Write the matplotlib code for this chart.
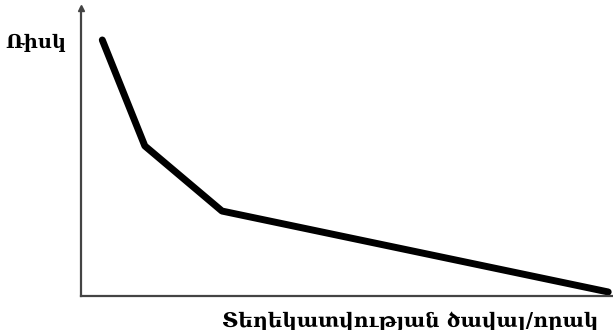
import matplotlib.pyplot as plt

# risk vs information volume/quality (arbitrary units, 0-100)
info = [4.0, 12.0, 26.5, 99.1]
risk = [88.9, 52.1, 29.5, 1.4]

x_label = 'Տեղեկատվության ծավալ/որակ'
y_label = 'Ռիսկ'

fig = plt.figure(figsize=(6.13, 3.30), dpi=100)
fig.patch.set_facecolor('w')
# axes box: left at x=81px, bottom at y=296px, top at arrow tip
ax = fig.add_axes([81/613, (330-296)/330, (613-81)/613, (296-8)/330])
ax.set_xlim(0, 100)
ax.set_ylim(0, 100)

ax.plot(info, risk, color='black', lw=5, solid_capstyle='round',
        solid_joinstyle='round')

for s in ['top', 'right']:
    ax.spines[s].set_visible(False)
for s in ['left', 'bottom']:
    ax.spines[s].set_color('#444444')
    ax.spines[s].set_linewidth(1.6)
ax.set_xticks([])
ax.set_yticks([])

# arrow head on the y axis
ax.plot([0], [100], marker='^', color='#444444', markersize=5,
        clip_on=False)

fig.text(5/613, 1 - 43/330, y_label, fontsize=14, fontweight='bold',
         family=['DejaVu Serif', 'DejaVu Sans'], va='center', ha='left')
fig.text(410/613, 1 - 321/330, x_label, fontsize=14.5, fontweight='bold',
         family=['DejaVu Serif', 'DejaVu Sans'], va='center', ha='center')

plt.savefig('out.png', dpi=100)
